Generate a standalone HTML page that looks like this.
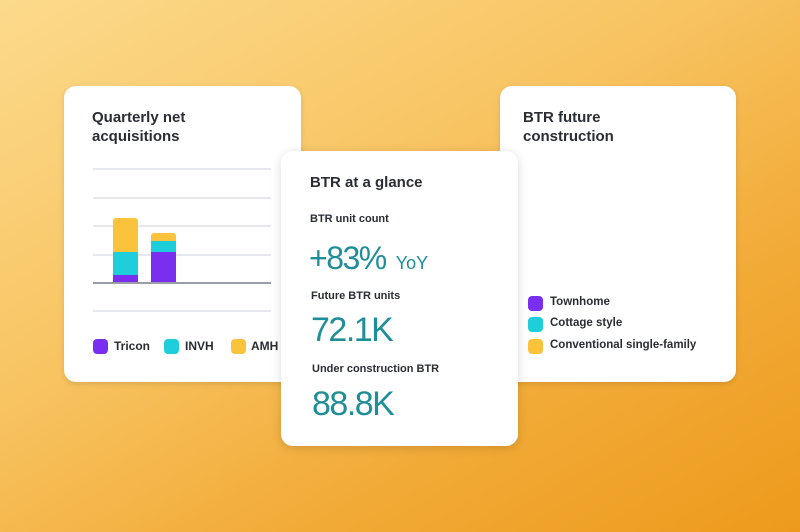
<!DOCTYPE html>
<html><head><meta charset="utf-8"><style>
*{margin:0;padding:0;box-sizing:border-box}
body{width:800px;height:532px;overflow:hidden;position:relative;font-family:"Liberation Sans",sans-serif;
background:linear-gradient(150deg,#fcda8c 0%,#f8c462 40%,#f2ab38 70%,#ed9a1c 100%)}
.card{position:absolute;background:#fff;border-radius:12px;box-shadow:0 2px 6px rgba(0,0,0,.12)}
.t{position:absolute;color:#2a2d33;font-weight:bold;white-space:nowrap}
.g{position:absolute;left:93px;width:178px;height:2px;background:#e6e7ef}
.sq{position:absolute;width:15px;height:15px;border-radius:4px}
.big{position:absolute;color:#1f8e98;white-space:nowrap;letter-spacing:-1.5px}
</style></head><body>
<div class="card" style="left:64px;top:86px;width:237px;height:296px"></div>
<div class="t" style="left:92px;top:108px;font-size:15px;line-height:19px">Quarterly net<br>acquisitions</div>
<div class="g" style="top:168px"></div>
<div class="g" style="top:197px"></div>
<div class="g" style="top:225px"></div>
<div class="g" style="top:254px"></div>
<div class="g" style="top:310px"></div>
<div style="position:absolute;left:113px;top:218px;width:25px;height:34px;background:#fbc23c;border-radius:3px 3px 0 0"></div>
<div style="position:absolute;left:113px;top:252px;width:25px;height:23px;background:#1fcedb"></div>
<div style="position:absolute;left:113px;top:275px;width:25px;height:8px;background:#7a2ff0"></div>
<div style="position:absolute;left:151px;top:233px;width:25px;height:8px;background:#fbc23c;border-radius:3px 3px 0 0"></div>
<div style="position:absolute;left:151px;top:241px;width:25px;height:11px;background:#1fcedb"></div>
<div style="position:absolute;left:151px;top:252px;width:25px;height:31px;background:#7a2ff0"></div>
<div class="g" style="top:282px;background:#9a9ca6"></div>
<div class="sq" style="left:93px;top:339px;background:#7a2ff0"></div>
<div class="t" style="left:114px;top:339px;font-size:12px">Tricon</div>
<div class="sq" style="left:164px;top:339px;background:#1fcedb"></div>
<div class="t" style="left:185px;top:339px;font-size:12px">INVH</div>
<div class="sq" style="left:231px;top:339px;background:#fbc23c"></div>
<div class="t" style="left:251px;top:339px;font-size:12px">AMH</div>

<div class="card" style="left:500px;top:86px;width:236px;height:296px"></div>
<div class="t" style="left:523px;top:108px;font-size:15px;line-height:19px">BTR future<br>construction</div>
<div class="sq" style="left:528px;top:296px;background:#7a2ff0"></div>
<div class="t" style="left:550px;top:296px;font-size:11.5px">Townhome</div>
<div class="sq" style="left:528px;top:317px;background:#1fcedb"></div>
<div class="t" style="left:550px;top:317px;font-size:11.5px">Cottage style</div>
<div class="sq" style="left:528px;top:339px;background:#fbc23c"></div>
<div class="t" style="left:550px;top:339px;font-size:11.5px">Conventional single-family</div>

<div class="card" style="left:281px;top:151px;width:237px;height:295px;box-shadow:0 2px 10px rgba(0,0,0,.15)"></div>
<div class="t" style="left:310px;top:174px;font-size:15px">BTR at a glance</div>
<div class="t" style="left:310px;top:213px;font-size:11px">BTR unit count</div>
<div class="big" style="left:309px;top:240px;font-size:32px">+83%<span style="font-size:18px;margin-left:10px;letter-spacing:0">YoY</span></div>
<div class="t" style="left:311px;top:290px;font-size:11px">Future BTR units</div>
<div class="big" style="left:311px;top:311px;font-size:34px">72.1K</div>
<div class="t" style="left:312px;top:363px;font-size:11px">Under construction BTR</div>
<div class="big" style="left:312px;top:385px;font-size:34px">88.8K</div>
</body></html>
